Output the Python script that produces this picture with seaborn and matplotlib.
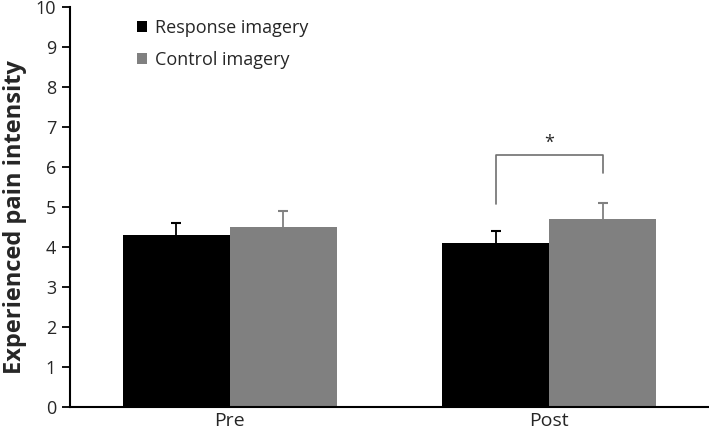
import matplotlib
matplotlib.use("Agg")
import matplotlib.pyplot as plt
import seaborn as sns
import pandas as pd
import numpy as np

phases = ["Pre", "Post"]
conditions = ["Response imagery", "Control imagery"]
response_means = [4.3, 4.1]
control_means = [4.5, 4.7]
response_err = [0.3, 0.3]
control_err = [0.4, 0.4]
y_ticks = list(range(0, 11))
sig_label = "*"

df = pd.DataFrame({
    "phase": phases * 2,
    "condition": [conditions[0]] * 2 + [conditions[1]] * 2,
    "value": response_means + control_means,
    "err": response_err + control_err,
})

sns.set_style("white")
plt.rcParams["font.family"] = ["Open Sans", "DejaVu Sans"]

fig = plt.figure(figsize=(7.09, 4.32), dpi=100)
ax = fig.add_axes([0.0987, 0.0579, 0.9013, 0.926])

colors = {"Response imagery": "#000000", "Control imagery": "#808080"}
sns.barplot(data=df, x="phase", y="value", hue="condition", order=phases,
            hue_order=conditions, palette=colors, width=0.67, errorbar=None,
            saturation=1, ax=ax, linewidth=0)

bar_containers = list(ax.containers)

# error bars (upper only, cap at top only)
for cont, cond in zip(bar_containers, conditions):
    sub = df[df["condition"] == cond].set_index("phase").loc[phases]
    xs = np.array([p.get_x() + p.get_width() / 2 for p in cont.patches])
    vals = sub["value"].values
    tops = vals + sub["err"].values
    ax.vlines(xs, vals, tops, color=colors[cond], lw=1.3, zorder=3)
    ax.plot(xs, tops, ls="none", marker="_", markersize=7, mew=1.5,
            color=colors[cond], zorder=3)

# significance bracket on Post
post_patches = [cont.patches[1] for cont in bar_containers]
x1 = post_patches[0].get_x() + post_patches[0].get_width() / 2
x2 = post_patches[1].get_x() + post_patches[1].get_width() / 2
ax.plot([x1, x1, x2, x2], [5.07, 6.3, 6.3, 5.85], color="#707070", lw=1.2)
ax.text((x1 + x2) / 2, 6.38, sig_label, ha="center", va="bottom", fontsize=13)

ax.set_ylim(0, 10)
ax.set_yticks(y_ticks)
ax.set_xlim(-0.5, 1.5)
ax.set_xlabel("")
ax.set_ylabel("Experienced pain intensity", fontsize=17, fontweight="bold")
ax.yaxis.set_label_coords(-0.068, 0.475)
ax.tick_params(axis="y", which="both", left=True, length=6, width=1.3,
               labelsize=13, direction="out", color="black", pad=4)
ax.tick_params(axis="x", bottom=False, labelsize=14, pad=0)
for s in ["top", "right"]:
    ax.spines[s].set_visible(False)
for s in ["left", "bottom"]:
    ax.spines[s].set_color("black")
    ax.spines[s].set_linewidth(1.5)

leg = ax.legend(loc="upper left", bbox_to_anchor=(0.08, 1.01), frameon=False,
                fontsize=13, handlelength=0.55, handleheight=0.55,
                handletextpad=0.45, labelspacing=0.75)

fig.savefig("out.png", dpi=100)
